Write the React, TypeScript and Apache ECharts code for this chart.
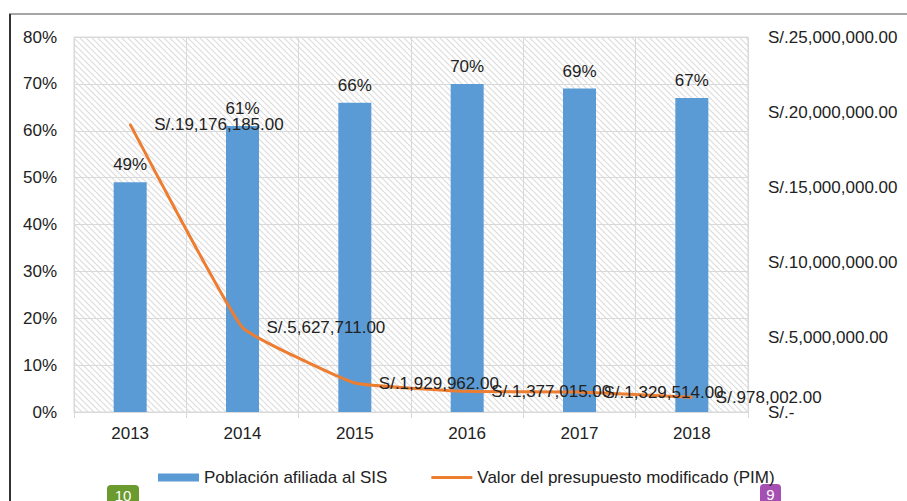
import React, { useEffect, useRef } from "react";
import * as echarts from "echarts";

const years = ["2013", "2014", "2015", "2016", "2017", "2018"];
const afiliada = [0.49, 0.61, 0.66, 0.70, 0.69, 0.67];
const pim = [19176185, 5627711, 1929962, 1377015, 1329514, 978002];
const legendNames = ["Población afiliada al SIS", "Valor del presupuesto modificado (PIM)"];
const badges = ["10", "9"];

const FONT = "Liberation Sans, Arial, Helvetica, sans-serif";
const FS = 17;

function money(v: number): string {
  if (v === 0) return "S/.-";
  const s = Math.round(v).toString();
  const parts: string[] = [];
  for (let i = s.length; i > 0; i -= 3) parts.unshift(s.substring(Math.max(0, i - 3), i));
  return "S/." + parts.join(",") + ".00";
}

function hatch(): string {
  const c = document.createElement("canvas");
  const n = 6;
  c.width = n;
  c.height = n;
  const ctx = c.getContext("2d")!;
  ctx.fillStyle = "#ffffff";
  ctx.fillRect(0, 0, n, n);
  ctx.strokeStyle = "#dcdcdc";
  ctx.lineWidth = 1.2;
  for (const o of [-n, 0, n]) {
    ctx.beginPath();
    ctx.moveTo(o, 0);
    ctx.lineTo(o + n, n);
    ctx.stroke();
  }
  return c.toDataURL();
}

export default function App() {
  const ref = useRef<HTMLDivElement>(null);
  useEffect(() => {
    if (!ref.current) return;
    const chart = echarts.init(ref.current, undefined, { renderer: "svg" });
    const gl = 74, gt = 37, gw = 674, gh = 375;
    chart.setOption({
      animation: false,
      backgroundColor: "#ffffff",
      textStyle: { fontFamily: FONT },
      grid: { left: gl, top: gt, width: gw, height: gh, show: true, borderColor: "#d9d9d9", borderWidth: 1 },
      legend: {
        left: 153,
        top: 464,
        itemWidth: 41,
        itemHeight: 8,
        itemGap: 44,
        textStyle: { fontSize: FS, color: "#222", fontFamily: FONT },
        data: [
          { name: legendNames[0], icon: "rect" },
          { name: legendNames[1], icon: "path://M0,0 L40,0 L40,3 L0,3 Z" },
        ],
      },
      xAxis: {
        type: "category",
        data: years,
        axisLine: { show: true, lineStyle: { color: "#d9d9d9" } },
        axisTick: { show: true, length: 6, lineStyle: { color: "#d9d9d9" } },
        splitLine: { show: true, interval: 0, lineStyle: { color: "#d9d9d9" } },
        axisLabel: { fontSize: FS, color: "#222", margin: 13, fontFamily: FONT },
      },
      yAxis: [
        {
          type: "value",
          min: 0,
          max: 0.8,
          interval: 0.1,
          axisLine: { show: false },
          axisTick: { show: false },
          splitLine: { show: true, lineStyle: { color: "#d9d9d9" } },
          axisLabel: {
            fontSize: FS,
            color: "#222",
            margin: 17,
            fontFamily: FONT,
            formatter: (v: number) => Math.round(v * 100) + "%",
          },
        },
        {
          type: "value",
          min: 0,
          max: 25000000,
          interval: 5000000,
          position: "right",
          axisLine: { show: false },
          axisTick: { show: false },
          splitLine: { show: false },
          axisLabel: {
            fontSize: FS,
            color: "#222",
            margin: 20,
            fontFamily: FONT,
            formatter: (v: number) => money(v),
          },
        },
      ],
      graphic: [
        {
          type: "rect",
          z: -10,
          shape: { x: gl, y: gt, width: gw, height: gh },
          style: { fill: { image: hatch(), repeat: "repeat" } as any },
        },
        { type: "line", shape: { x1: 9, y1: 14, x2: 907, y2: 14 }, style: { stroke: "#a6a6a6", lineWidth: 2 } },
        { type: "line", shape: { x1: 10, y1: 14, x2: 10, y2: 501 }, style: { stroke: "#333333", lineWidth: 2 } },
        {
          type: "rect",
          shape: { x: 107, y: 485, width: 32, height: 24, r: 4 },
          style: { fill: "#6b9a2f" },
        },
        {
          type: "text",
          x: 123,
          y: 488,
          style: { text: badges[0], fill: "#ffffff", fontSize: 15, fontFamily: FONT, align: "center", verticalAlign: "top" },
        },
        {
          type: "rect",
          shape: { x: 760, y: 484, width: 21, height: 24, r: 4 },
          style: { fill: "#a64fb3" },
        },
        {
          type: "text",
          x: 770.5,
          y: 487,
          style: { text: badges[1], fill: "#ffffff", fontSize: 15, fontFamily: FONT, align: "center", verticalAlign: "top" },
        },
      ],
      series: [
        {
          name: legendNames[0],
          type: "bar",
          data: afiliada,
          barWidth: 33,
          itemStyle: { color: "#5b9bd5" },
          label: {
            show: true,
            position: "top",
            distance: 9,
            fontSize: FS,
            color: "#222",
            fontFamily: FONT,
            formatter: (p: any) => Math.round(p.value * 100) + "%",
          },
        },
        {
          name: legendNames[1],
          type: "line",
          yAxisIndex: 1,
          data: pim,
          smooth: 0.1,
          symbol: "circle",
          symbolSize: 2,
          showSymbol: true,
          itemStyle: { color: "#ed7d31" },
          lineStyle: { color: "#ed7d31", width: 3 },
          label: {
            show: true,
            position: "right",
            distance: 23,
            fontSize: FS,
            color: "#222",
            fontFamily: FONT,
            formatter: (p: any) => money(p.value),
          },
        },
      ],
    });
    return () => chart.dispose();
  }, []);
  return <div ref={ref} style={{ position: "fixed", left: 0, top: 0, width: 907, height: 501 }} />;
}
